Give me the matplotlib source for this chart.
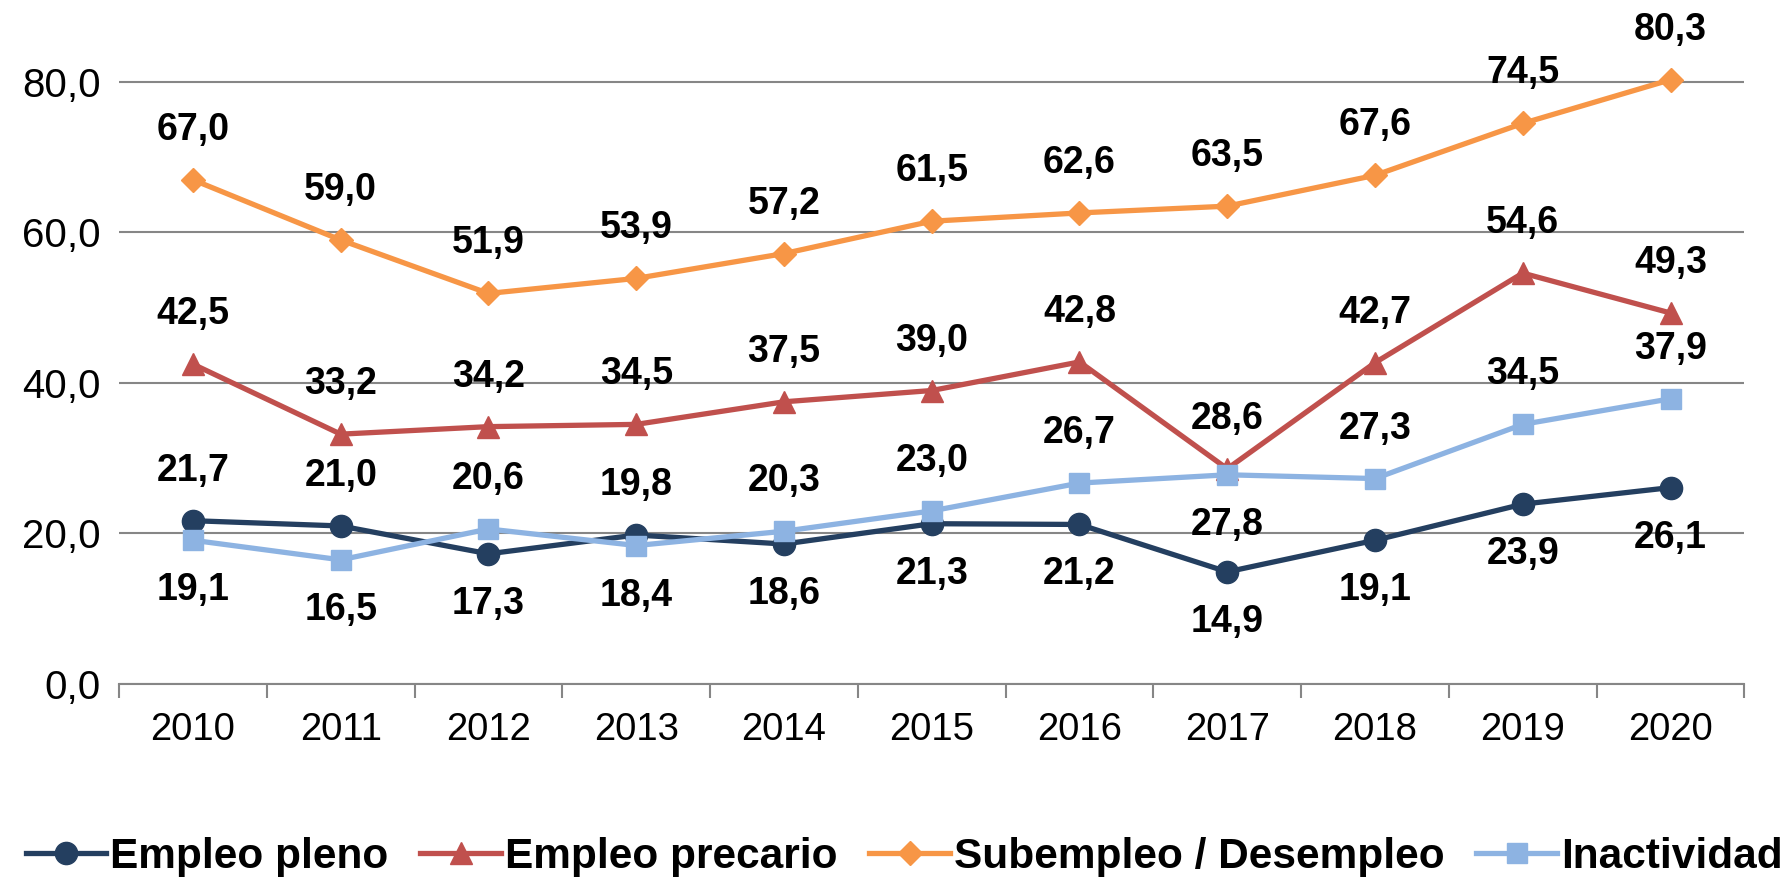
import numpy as np
import matplotlib
matplotlib.use("Agg")
import matplotlib.pyplot as plt

plt.rcParams['font.family'] = ['Liberation Sans', 'DejaVu Sans']

# ---- datos ----
years = ["2010", "2011", "2012", "2013", "2014", "2015", "2016", "2017", "2018", "2019", "2020"]
empleo_pleno = [21.7, 21.0, 17.3, 19.8, 18.6, 21.3, 21.2, 14.9, 19.1, 23.9, 26.1]
empleo_precario = [42.5, 33.2, 34.2, 34.5, 37.5, 39.0, 42.8, 28.6, 42.7, 54.6, 49.3]
subempleo = [67.0, 59.0, 51.9, 53.9, 57.2, 61.5, 62.6, 63.5, 67.6, 74.5, 80.3]
inactividad = [19.1, 16.5, 20.6, 18.4, 20.3, 23.0, 26.7, 27.8, 27.3, 34.5, 37.9]

# posición de la etiqueta: 1 arriba, -1 abajo
pos_pleno = [1, 1, -1, 1, -1, -1, -1, -1, -1, -1, -1]
pos_precario = [1] * 11
pos_sub = [1] * 11
pos_inact = [-1, -1, 1, -1, 1, 1, 1, -1, 1, 1, 1]

series = [
    ("Empleo pleno", empleo_pleno, pos_pleno, "#243F60", "o", 16),
    ("Empleo precario", empleo_precario, pos_precario, "#C0504D", "^", 16),
    ("Subempleo / Desempleo", subempleo, pos_sub, "#F79646", "D", 12),
    ("Inactividad", inactividad, pos_inact, "#8DB3E2", "s", 15),
]

fig = plt.figure(figsize=(17.8, 8.82), dpi=100)
ax = fig.add_axes([0.0669, 0.2245, 0.9131, 0.7508])

x = np.arange(len(years))
for name, vals, pos, col, mk, ms in series:
    ax.plot(x, vals, color=col, lw=3.8, marker=mk, markersize=ms,
            label=name, zorder=3)
    for xi, v, p in zip(x, vals, pos):
        ax.annotate(f"{v:.1f}".replace(".", ","), (xi, v),
                    xytext=(0, 36 * p), textcoords="offset points",
                    ha="center", va="center", fontsize=27,
                    fontweight="bold", color="black", zorder=4)

ax.set_ylim(0, 88)
ax.set_xlim(-0.5, len(years) - 0.5)
ax.set_yticks([0, 20, 40, 60, 80])
ax.set_yticklabels([f"{t:.1f}".replace(".", ",") for t in [0, 20, 40, 60, 80]])
ax.yaxis.grid(True, color="#868686", lw=1.5)
ax.set_axisbelow(True)

ax.set_xticks(np.arange(-0.5, len(years), 1.0))
ax.set_xticklabels([])
ax.set_xticks(x, minor=True)
ax.set_xticklabels(years, minor=True)
ax.tick_params(axis="x", which="major", length=10, width=1.5, color="#868686")
ax.tick_params(axis="x", which="minor", length=0, pad=20, labelsize=27.5)
ax.tick_params(axis="y", length=0, pad=13, labelsize=29)

for s in ["top", "right", "left"]:
    ax.spines[s].set_visible(False)
ax.spines["bottom"].set_color("#868686")
ax.spines["bottom"].set_linewidth(1.5)

fig.legend(loc="center", bbox_to_anchor=(0.508, 0.028), ncol=4, frameon=False,
           prop={"weight": "bold", "size": 30.5}, handlelength=1.9,
           handletextpad=0.1, columnspacing=0.75, borderaxespad=0)

fig.savefig("out.png", dpi=100)
